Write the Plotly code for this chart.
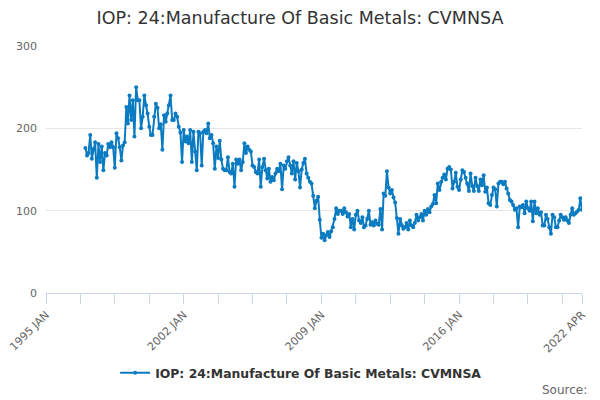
import plotly.graph_objects as go
import pandas as pd

# monthly index, 1997 JAN .. 2022 APR
start_month = "1997-01-01"
values = [
    176, 167, 170, 192, 163, 175, 183, 140, 181, 159, 178, 149,   # 1997
    170, 167, 181, 177, 183, 177, 152, 194, 188, 177, 161, 179,   # 1998
    183, 226, 206, 240, 210, 234, 190, 250, 234, 234, 200, 214,   # 1999
    240, 228, 218, 202, 192, 192, 214, 230, 225, 200, 205, 174,   # 2000
    216, 208, 218, 228, 240, 210, 210, 218, 214, 202, 195, 159,   # 2001
    198, 184, 190, 182, 198, 159, 196, 172, 149, 196, 194, 155,   # 2002
    196, 198, 194, 206, 188, 192, 182, 151, 178, 164, 185, 162,   # 2003
    151, 149, 149, 165, 147, 145, 157, 129, 162, 157, 162, 149,   # 2004
    159, 182, 170, 178, 174, 172, 155, 153, 147, 145, 162, 129,   # 2005
    153, 163, 149, 139, 151, 135, 141, 137, 145, 151, 148, 157,   # 2006
    126, 155, 151, 160, 165, 155, 145, 160, 138, 158, 148, 128,   # 2007
    150, 158, 163, 145, 140, 135, 133, 118, 103, 112, 117, 89,    # 2008
    67, 72, 64, 70, 74, 68, 75, 80, 90, 103, 96, 100,             # 2009
    100, 96, 103, 98, 93, 96, 80, 90, 77, 95, 100, 88,            # 2010
    85, 92, 80, 82, 90, 100, 83, 86, 82, 88, 84, 83,              # 2011
    102, 77, 121, 118, 148, 128, 121, 125, 116, 110, 91, 72,      # 2012
    90, 82, 78, 80, 85, 77, 88, 82, 80, 85, 95, 88,               # 2013
    92, 96, 88, 100, 95, 102, 98, 105, 108, 119, 109, 133,        # 2014
    125, 135, 140, 144, 138, 151, 153, 150, 127, 135, 146, 129,   # 2015
    125, 138, 149, 147, 140, 133, 124, 145, 130, 124, 140, 130,   # 2016
    124, 138, 131, 143, 123, 128, 109, 107, 119, 128, 126, 105,   # 2017
    133, 135, 135, 132, 135, 127, 121, 113, 111, 107, 101, 103,   # 2018
    80, 105, 104, 107, 97, 111, 103, 100, 111, 87, 111, 97,       # 2019
    103, 95, 98, 82, 82, 95, 90, 80, 72, 95, 92, 80,              # 2020
    80, 88, 95, 92, 89, 92, 88, 85, 95, 103, 95, 97,              # 2021
    99, 101, 115, 101,                                            # 2022
]
dates = pd.date_range(start_month, periods=len(values), freq="MS")

tick_dates = list(pd.date_range("1995-01-01", "2022-04-01", freq="21MS")) + [pd.Timestamp("2022-04-01")]
tick_labels = {"1995-01": "1995 JAN", "2002-01": "2002 JAN", "2009-01": "2009 JAN",
               "2016-01": "2016 JAN", "2022-04": "2022 APR"}
tick_text = [tick_labels.get(d.strftime("%Y-%m"), "") for d in tick_dates]

series_name = "IOP: 24:Manufacture Of Basic Metals: CVMNSA"

fig = go.Figure()
fig.add_trace(go.Scatter(
    x=dates, y=values, name="<b>" + series_name + "</b>", mode="lines+markers",
    line=dict(color="#0b7bc1", width=2),
    marker=dict(color="#0b7bc1", size=4),
))

fig.update_layout(
    width=600, height=400,
    paper_bgcolor="white", plot_bgcolor="white",
    margin=dict(l=46, r=18, t=46, b=107),
    font=dict(family="DejaVu Sans", color="#666666"),
    title=dict(text=series_name, x=0.5, xanchor="center", y=0.955, yanchor="middle",
               font=dict(size=17.5, color="#333333")),
    showlegend=True,
    legend=dict(orientation="h", x=0.476, xanchor="center", y=-0.325, yanchor="middle",
                font=dict(size=12.4, color="#333333", family="DejaVu Sans"),
                itemwidth=30),
    annotations=[dict(text="Source:", x=1.013, xref="paper", xanchor="right",
                      y=-0.393, yref="paper", yanchor="middle", showarrow=False,
                      font=dict(size=12, color="#666666"))],
)
fig.update_xaxes(
    type="date", range=["1995-01-01", "2022-04-01"], automargin=False,
    tickvals=tick_dates, ticktext=tick_text, tickangle=-45,
    ticks="outside", ticklen=10, tickcolor="#ccd6eb",
    showline=True, linecolor="#ccd6eb", linewidth=1,
    showgrid=False, zeroline=False,
    tickfont=dict(size=11, color="#666666"),
)
fig.update_yaxes(
    range=[0, 300], tickvals=[0, 100, 200, 300], automargin=False,
    showgrid=True, gridcolor="#e6e6e6", zeroline=False, showline=False,
    tickfont=dict(size=11, color="#666666"), ticks="", ticklabelstandoff=8,
)

fig.write_html("out.html", config={"displayModeBar": False},
               post_script="document.body.style.margin='0';")
